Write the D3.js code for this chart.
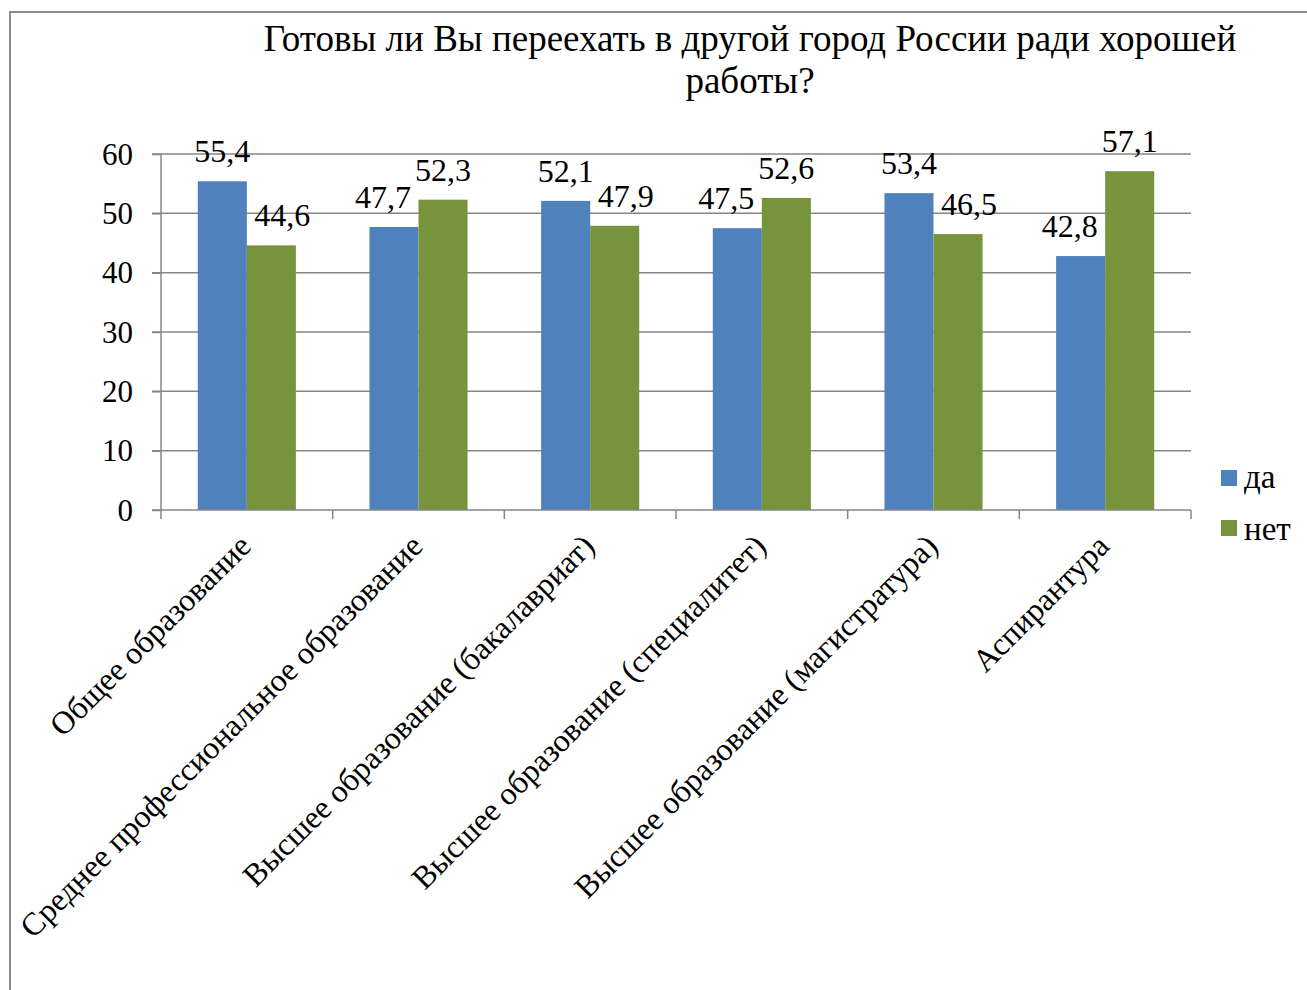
<!DOCTYPE html>
<html><head><meta charset="utf-8">
<script src="https://cdn.jsdelivr.net/npm/d3@7/dist/d3.min.js"></script>
<style>body{margin:0;background:#fff}svg{display:block}text{font-family:"Liberation Serif","Times New Roman",serif;fill:#000}</style>
</head><body>
<script>
const categories = ["Общее образование","Среднее профессиональное образование","Высшее образование (бакалавриат)","Высшее образование (специалитет)","Высшее образование (магистратура)","Аспирантура"];
const seriesNames = ["да","нет"];
const yesValues = [55.4,47.7,52.1,47.5,53.4,42.8];
const noValues = [44.6,52.3,47.9,52.6,46.5,57.1];
const yTicks = [0,10,20,30,40,50,60];
const titleLines = ["Готовы ли Вы переехать в другой город России ради хорошей","работы?"];
const colors = ["#4F81BD","#77933C"];

const W=1307,H=990;
const svg=d3.select("body").append("svg").attr("width",W).attr("height",H);
svg.append("path").attr("d",`M10,${H+5}V12H${W+5}`).attr("fill","none").attr("stroke","#8c8c8c").attr("stroke-width",2);

const L=161,R=1191,T=154,B=510;
const x0=d3.scaleBand().domain(categories).range([L,R]).paddingInner(0).paddingOuter(0);
const y=d3.scaleLinear().domain([0,60]).range([B,T]);
const bw=x0.bandwidth()/3.5;
const x1=d3.scaleBand().domain(seriesNames).range([x0.bandwidth()*0.75/3.5, x0.bandwidth()*0.75/3.5 + 2*bw]);

svg.append("g").selectAll("line").data(yTicks.filter(d=>d>0)).join("line")
 .attr("x1",152).attr("x2",R).attr("y1",d=>y(d)).attr("y2",d=>y(d))
 .attr("stroke","#868686").attr("stroke-width",1.5);

const data=categories.map((c,i)=>({c,vals:[yesValues[i],noValues[i]]}));
const g=svg.append("g");
data.forEach(d=>{
  const labels=[];
  d.vals.forEach((v,j)=>{
    const xx=x0(d.c)+x1(seriesNames[j]);
    g.append("rect").attr("x",xx).attr("y",y(v)).attr("width",x1.bandwidth()).attr("height",y(0)-y(v)).attr("fill",colors[j]);
    const t=g.append("text").attr("x",xx+x1.bandwidth()/2).attr("y",y(v)-19).attr("text-anchor","middle").attr("font-size",32).text(String(v).replace(".",","));
    labels.push({t,cx:xx+x1.bandwidth()/2,w:t.node().getComputedTextLength(),v});
  });
  // avoid overlap: shift the lower label outward
  const [a,b]=labels;
  const need=(a.w+b.w)/2+4-(b.cx-a.cx);
  if(need>0){
    if(a.v<b.v) a.t.attr("x",a.cx-need); else b.t.attr("x",b.cx+need);
  }
});

const ya=svg.append("g").attr("transform",`translate(${L},0)`).call(d3.axisLeft(y).tickValues(yTicks).tickSize(9).tickPadding(19).tickFormat(d3.format("d")));
ya.attr("font-family",null);
ya.select(".domain").attr("stroke","#868686").attr("stroke-width",1.5).attr("d",`M0,${T}V${B}`);
ya.selectAll(".tick line").attr("stroke","#868686").attr("stroke-width",1.5);
ya.selectAll(".tick text").attr("font-size",31).attr("fill","#000").attr("dy","0.33em");

const xa=svg.append("g").attr("transform",`translate(0,${B})`);
xa.append("line").attr("x1",152).attr("x2",R).attr("stroke","#868686").attr("stroke-width",1.5);
const bounds=categories.map(c=>x0(c)).concat([R]);
xa.selectAll("line.tk").data(bounds).join("line").attr("class","tk").attr("x1",d=>d).attr("x2",d=>d).attr("y1",0).attr("y2",9).attr("stroke","#868686").attr("stroke-width",1.5);
xa.selectAll("text").data(categories).join("text")
 .attr("transform",d=>`translate(${x0(d)+x0.bandwidth()/2+6},${38}) rotate(-45)`)
 .attr("text-anchor","end").attr("font-size",32).text(d=>d);

svg.append("g").selectAll("text").data(titleLines).join("text")
 .attr("x",750).attr("y",(d,i)=>51+i*42).attr("text-anchor","middle").attr("font-size",37).text(d=>d);

const lg=svg.append("g");
seriesNames.forEach((s,i)=>{
  lg.append("rect").attr("x",1221).attr("y",470+i*50).attr("width",16).attr("height",16).attr("fill",colors[i]);
  lg.append("text").attr("x",1244).attr("y",488+i*52).attr("font-size",33).text(s);
});
</script>
</body></html>
